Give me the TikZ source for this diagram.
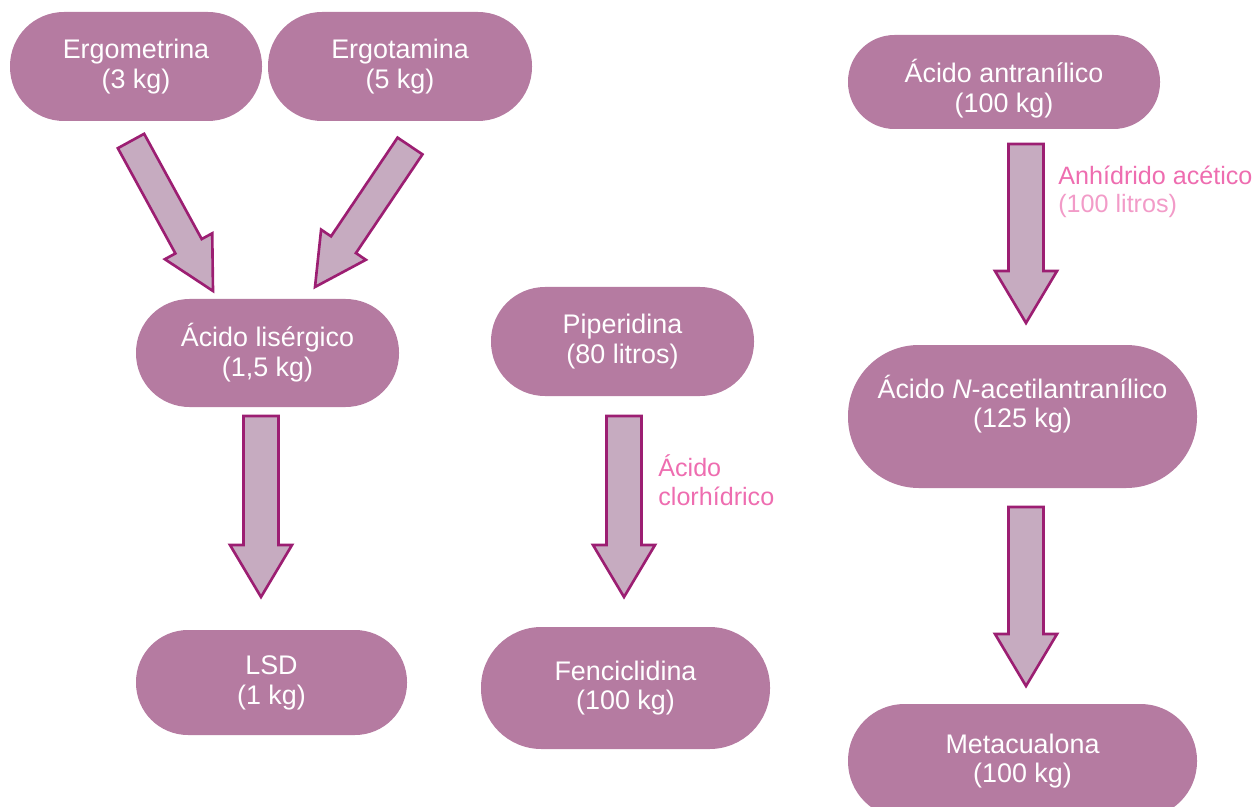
\documentclass[tikz,border=0pt]{standalone}
\usepackage{fontspec}
\setmainfont{Liberation Sans}
\usetikzlibrary{calc}
\definecolor{pillfill}{HTML}{B57BA1}
\definecolor{arrowfill}{HTML}{C6ABC0}
\definecolor{arrowline}{HTML}{9C1E72}
\definecolor{labelpink}{HTML}{EE6DB0}
\definecolor{labellight}{HTML}{F29BC8}
\tikzset{
	pill/.style 2 args={rectangle, fill=pillfill, text=white, align=center, inner sep=0pt,
		minimum width=#1*0.02cm, minimum height=#2*0.02cm, rounded corners=#2*0.0099cm,
		font=\fontsize{15.3}{17}\selectfont},
	fatarrow/.style={draw=arrowline, fill=arrowfill, line width=1.5pt},
	reagent/.style={align=left, anchor=base west, inner sep=0pt, text=labelpink, font=\fontsize{14.3}{16.5}\selectfont}
}
\newcommand{\blockarrow}[5]{%
	\coordinate (hb) at ($(#2)!#5!(#1)$);
	\draw[fatarrow] ($(#1)!#3!90:(#2)$) -- ($(hb)!#3!90:(#2)$) -- ($(hb)!#4!90:(#2)$) -- (#2)
		-- ($(hb)!#4!-90:(#2)$) -- ($(hb)!#3!-90:(#2)$) -- ($(#1)!#3!-90:(#2)$) -- cycle;
}
\begin{document}
\begin{tikzpicture}[x=0.02cm, y=-0.02cm]
			\useasboundingbox (0,0) rectangle (1260,807);
			\clip (0,0) rectangle (1260,807);
			\node[pill={252}{109}] (E1) at (136,66.5) {Ergometrina\\(3 kg)};
			\node[pill={264}{109}] (E2) at (400,66.5) {Ergotamina\\(5 kg)};
			\node[pill={263}{108}] (L) at (267.5,353) {Ácido lisérgico\\(1,5 kg)};
			\node[pill={271}{105}] (D) at (271.5,682.5) {LSD\\(1 kg)};
			\node[pill={263}{109}] (P) at (622.5,341.5) {Piperidina\\(80 litros)};
			\node[pill={289}{122}] (F) at (625.5,688) {Fenciclidina\\(100 kg)};
			\node[pill={312}{94}, text height=38pt, text depth=3pt] (A1) at (1004,82) {Ácido antranílico\\(100 kg)};
			\node[pill={349}{143}, text height=17pt, text depth=4pt] (A2) at (1022.5,416.5) {Ácido \textit{N}-acetilantranílico\\(125 kg)};
			\node[pill={349}{114}] (M) at (1022.5,761) {Metacualona\\(100 kg)};
			\node[reagent] (R1) at (1058,213) {{\color{labelpink}Anhídrido acético}\\{\color{labellight}(100 litros)}};
			\node[reagent] (R2) at (658,505) {Ácido\\clorhídrico};
			\coordinate (T1) at (131,141); 
			\coordinate (H1) at (213,291); 
			\coordinate (T2) at (410,146); 
			\coordinate (H2) at (315,287); 
			\coordinate (T3) at (261,416); 
			\coordinate (H3) at (261,597); 
			\coordinate (T4) at (624,416); 
			\coordinate (H4) at (624,597); 
			\coordinate (T5) at (1026,144); 
			\coordinate (H5) at (1026,323); 
			\coordinate (T6) at (1026,507); 
			\coordinate (H6) at (1026,686); 
			\blockarrow{T1}{H1}{0.3cm}{0.54cm}{1.02cm}
			\blockarrow{T2}{H2}{0.3cm}{0.54cm}{1.02cm}
			\blockarrow{T3}{H3}{0.35cm}{0.62cm}{1.04cm}
			\blockarrow{T4}{H4}{0.35cm}{0.62cm}{1.04cm}
			\blockarrow{T5}{H5}{0.35cm}{0.62cm}{1.04cm}
			\blockarrow{T6}{H6}{0.35cm}{0.62cm}{1.04cm}
	\end{tikzpicture}
\end{document}
